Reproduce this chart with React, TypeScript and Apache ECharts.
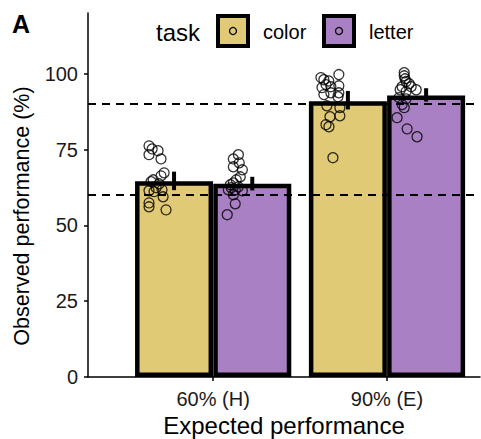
import React, { useEffect, useRef } from "react";
import * as echarts from "echarts";

const categories = ["60% (H)", "90% (E)"];
const tasks = ["color", "letter"];
const taskColors = ["#E1CA76", "#A980C3"];
const barValues = [
  [64.5, 90.9], // color
  [63.7, 92.8], // letter
];
const errLow = [
  [61.6, 88.2],
  [61.5, 90.8],
];
const errHigh = [
  [67.7, 94.3],
  [66.0, 95.2],
];
const refLines = [60, 90];
const yTicks = [0, 25, 50, 75, 100];
const dodge = 0.225;

// individual participants: y values and horizontal jitter (category units)
const color60Y = [76.2, 75.2, 74.6, 73.3, 71.9, 67.3, 66.3, 65.0, 64.4, 63.7, 62.4, 61.7, 61.4, 61.1, 59.4, 57.4, 56.1, 55.1];
const color60Dx = [-0.144, -0.126, -0.092, -0.144, -0.075, -0.057, -0.075, -0.12, -0.132, -0.086, -0.103, -0.069, -0.144, -0.115, -0.063, -0.144, -0.144, -0.046];
const letter60Y = [73.3, 71.9, 70.6, 69.3, 68.3, 66.0, 65.0, 64.0, 63.4, 62.7, 62.4, 61.7, 61.7, 61.4, 60.1, 57.1, 53.5];
const letter60Dx = [-0.08, -0.109, -0.075, -0.109, -0.057, -0.069, -0.092, -0.109, -0.126, -0.08, -0.121, -0.138, -0.098, -0.057, -0.109, -0.098, -0.144];
const color90Y = [99.7, 98.7, 98.0, 97.6, 96.4, 95.4, 95.7, 96.0, 93.7, 93.7, 93.1, 92.4, 89.4, 88.8, 85.8, 86.1, 83.2, 82.5, 72.3];
const color90Dx = [-0.052, -0.155, -0.138, -0.11, -0.126, -0.149, -0.098, -0.052, -0.098, -0.052, -0.138, -0.057, -0.121, -0.046, -0.103, -0.046, -0.126, -0.109, -0.086];
const letter90Y = [100.3, 99.3, 98.3, 97.4, 96.7, 95.7, 95.7, 94.7, 94.7, 94.1, 92.1, 91.7, 89.8, 88.8, 85.5, 81.8, 79.2];
const letter90Dx = [-0.126, -0.126, -0.121, -0.115, -0.098, -0.138, -0.086, -0.057, -0.149, -0.115, -0.155, -0.115, -0.138, -0.126, -0.167, -0.109, -0.052];

const FONT = "'Liberation Sans', Arial, Helvetica, sans-serif";

export default function App() {
  const ref = useRef<HTMLDivElement>(null);
  useEffect(() => {
    if (!ref.current) return;
    const chart = echarts.init(ref.current, null, { renderer: "svg" });

    const pos = (cat: number, task: number) => cat + 1 + (task === 0 ? -dodge : dodge);
    const barData = (task: number) => categories.map((_, c) => [pos(c, task), barValues[task][c]]);
    const pts = (cat: number, task: number, ys: number[], dxs: number[]) =>
      ys.map((y, i) => [pos(cat, task) + dxs[i], y]);
    const pointData = [
      ...pts(0, 0, color60Y, color60Dx),
      ...pts(0, 1, letter60Y, letter60Dx),
      ...pts(1, 0, color90Y, color90Dx),
      ...pts(1, 1, letter90Y, letter90Dx),
    ];
    const errData: number[][] = [];
    for (let t = 0; t < 2; t++)
      for (let c = 0; c < 2; c++) errData.push([pos(c, t), errLow[t][c], errHigh[t][c]]);

    const legendX = [216, 322];
    const legendGraphics: any[] = [
      { type: "text", x: 12, y: 24, style: { text: "A", font: `bold 25px ${FONT}`, fill: "#000", verticalAlign: "middle" } },
      { type: "text", x: 156, y: 32, style: { text: "task", font: `24px ${FONT}`, fill: "#000", verticalAlign: "middle" } },
      {
        type: "text", rotation: Math.PI / 2, x: 22, y: 216,
        style: { text: "Observed performance (%)", font: `21.5px ${FONT}`, fill: "#000", align: "center", verticalAlign: "middle" },
      },
    ];
    tasks.forEach((t, i) => {
      const x0 = legendX[i];
      legendGraphics.push(
        { type: "rect", shape: { x: x0 + 2, y: 16, width: 30, height: 30 }, style: { fill: taskColors[i], stroke: "#000", lineWidth: 4 } },
        { type: "circle", shape: { cx: x0 + 17, cy: 31, r: 3.5 }, style: { fill: "none", stroke: "#000", lineWidth: 1.3 } },
        { type: "text", x: x0 + 47, y: 32, style: { text: t, font: `20px ${FONT}`, fill: "#000", verticalAlign: "middle" } }
      );
    });

    chart.setOption({
      animation: false,
      grid: { left: 88, right: 1, top: 13, bottom: 62, containLabel: false, outerBoundsMode: "none" },
      xAxis: {
        type: "value",
        min: 0.28,
        max: 2.535,
        name: "Expected performance",
        nameLocation: "middle",
        nameGap: 34,
        nameTextStyle: { fontFamily: FONT, fontSize: 24, color: "#000" },
        axisLine: { show: true, lineStyle: { color: "#000", width: 1.5 } },
        axisTick: { show: true, length: 4, customValues: [1, 2], lineStyle: { color: "#000", width: 1.5 } },
        axisLabel: {
          customValues: [1, 2],
          formatter: (v: number) => categories[Math.round(v) - 1] ?? "",
          fontFamily: FONT, fontSize: 20, color: "#1a1a1a", margin: 12,
        },
        splitLine: { show: false },
      },
      yAxis: {
        type: "value",
        min: 0,
        max: 120,
        axisLine: { show: true, lineStyle: { color: "#000", width: 1.5 } },
        axisTick: { show: true, length: 4, customValues: yTicks, lineStyle: { color: "#000", width: 1.5 } },
        axisLabel: { customValues: yTicks, fontFamily: FONT, fontSize: 20, color: "#1a1a1a", margin: 10 },
        splitLine: { show: false },
      },
      graphic: legendGraphics,
      series: [
        ...tasks.map((t, i) => ({
          type: "bar",
          name: t,
          data: barData(i),
          barWidth: 78,
          barGap: "-100%",
          itemStyle: { color: taskColors[i], borderColor: "#000", borderWidth: 4.5 },
          z: 2,
        })),
        {
          type: "scatter",
          data: pointData,
          symbol: "circle",
          symbolSize: 10,
          itemStyle: { color: "rgba(0,0,0,0)", borderColor: "#000", borderWidth: 1.3 },
          z: 4,
          markLine: {
            silent: true,
            symbol: "none",
            label: { show: false },
            lineStyle: { color: "#000", width: 1.8, type: [8, 6] },
            data: refLines.map((v) => ({ yAxis: v })),
          },
        },
        {
          type: "custom",
          data: errData,
          z: 5,
          renderItem: (params: any, api: any) => {
            const p1 = api.coord([api.value(0), api.value(1)]);
            const p2 = api.coord([api.value(0), api.value(2)]);
            return {
              type: "line",
              shape: { x1: p1[0], y1: p1[1], x2: p2[0], y2: p2[1] },
              style: { stroke: "#000", lineWidth: 4 },
            };
          },
        },
      ],
    });
    return () => chart.dispose();
  }, []);
  return <div ref={ref} style={{ width: 481, height: 439, position: "absolute", left: 0, top: 0 }} />;
}
